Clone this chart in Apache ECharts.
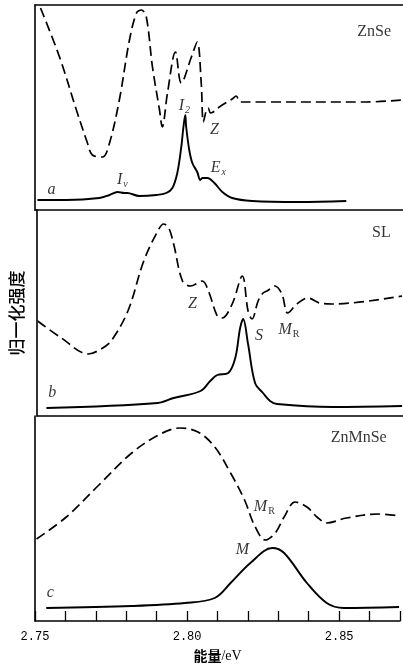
<!DOCTYPE html>
<html>
<head>
<meta charset="utf-8">
<script src="https://cdn.jsdelivr.net/npm/echarts@6/dist/echarts.min.js"></script>
<style>
  html, body { margin: 0; padding: 0; background: #fff; }
  #chart { width: 403px; height: 671px; }
</style>
</head>
<body>
<div id="chart"></div>
<script>
// energy (eV), normalized intensity (arbitrary units per panel)
const znseRefl = [[2.7518,202],[2.7580,153],[2.7635,100],[2.7671,67],[2.7687,55],[2.7720,53],[2.7743,67],[2.7775,110],[2.7808,170],[2.7831,197],[2.7847,200],[2.7863,193],[2.7883,143],[2.7906,100],[2.7915,83],[2.7932,117],[2.7958,158],[2.7977,127],[2.8010,153],[2.8029,168],[2.8042,127],[2.8049,88],[2.8059,100],[2.8065,102],[2.8072,97],[2.8081,98],[2.8101,103],[2.8143,111],[2.8156,114],[2.8169,108],[2.8254,108],[2.8580,108],[2.8697,110]];
const znsePL = [[2.7508,10],[2.7603,10],[2.7710,12],[2.7743,15],[2.7769,18],[2.7792,17],[2.7801,17],[2.7840,14],[2.7896,15],[2.7928,17],[2.7948,22],[2.7964,37],[2.7977,63],[2.7984,83],[2.7990,95],[2.7993,83],[2.8003,60],[2.8013,47],[2.8029,38],[2.8039,30],[2.8046,32],[2.8062,32],[2.8085,27],[2.8111,18],[2.8143,12],[2.8208,9],[2.8362,8],[2.8515,9]];

const slRefl = [[2.7502,95],[2.7580,78],[2.7668,62],[2.7710,67],[2.7743,75],[2.7798,105],[2.7850,155],[2.7896,185],[2.7915,192],[2.7932,188],[2.7948,172],[2.7977,135],[2.8003,130],[2.8042,135],[2.8062,125],[2.8091,100],[2.8107,98],[2.8140,112],[2.8173,140],[2.8192,105],[2.8205,97],[2.8225,115],[2.8241,123],[2.8254,125],[2.8280,130],[2.8303,122],[2.8322,103],[2.8352,112],[2.8388,118],[2.8427,113],[2.8469,112],[2.8697,120]];
const slPL = [[2.7531,8],[2.7896,13],[2.7948,18],[2.8036,25],[2.8068,35],[2.8091,41],[2.8127,43],[2.8150,58],[2.8166,88],[2.8176,97],[2.8192,72],[2.8215,33],[2.8241,23],[2.8264,15],[2.8287,12],[2.8469,9],[2.8697,10]];

const znmnseRefl = [[2.7505,82],[2.7603,104],[2.7710,136],[2.7818,168],[2.7906,186],[2.7977,193],[2.8036,189],[2.8091,174],[2.8143,148],[2.8189,121],[2.8221,96],[2.8257,81],[2.8290,88],[2.8319,104],[2.8355,119],[2.8394,114],[2.8427,104],[2.8459,98],[2.8524,103],[2.8632,107],[2.8697,105]];
const znmnsePL = [[2.7537,13],[2.7818,15],[2.7993,18],[2.8091,23],[2.8143,38],[2.8208,58],[2.8280,73],[2.8319,68],[2.8394,38],[2.8459,18],[2.8515,13],[2.8697,14]];

// annotation texts: text, energy, intensity
const labelsA = [['ZnSe',2.8606,178],['{it|I}{sub|2}',2.7987,104],['{it|Z}',2.8085,80],['{it|E}{sub|x}',2.8098,42],['{it|I}{sub|v}',2.7785,30],['{it|a}',2.7554,20]];
const labelsB = [['SL',2.8629,183],['{it|Z}',2.8010,112],['{it|S}',2.8228,80],['{it|M}{rsub|R}',2.8326,86],['{it|b}',2.7550,23]];
const labelsC = [['ZnMnSe',2.8564,183],['{it|M}{rsub|R}',2.8254,114],['{it|M}',2.8182,71],['{it|c}',2.7550,28]];

const xMin = 2.75, xMax = 2.87;
const axisColor = '#000';

const chart = echarts.init(document.getElementById('chart'));

function xAx(grid, extra) {
  return Object.assign({
    type: 'value', gridIndex: grid, min: xMin, max: xMax, interval: 0.01,
    axisLine: { show: true, lineStyle: { color: axisColor, width: 1.6 } },
    axisTick: { show: false }, axisLabel: { show: false }, splitLine: { show: false }
  }, extra || {});
}
function yAx(grid, max, extra) {
  return Object.assign({
    type: 'value', gridIndex: grid, min: 0, max: max,
    axisLine: { show: true, lineStyle: { color: axisColor, width: 1.6 } },
    axisTick: { show: false }, axisLabel: { show: false }, splitLine: { show: false }
  }, extra || {});
}
function curve(data, idx, dashed) {
  return {
    type: 'line', xAxisIndex: idx, yAxisIndex: idx, data: data,
    smooth: 0.35, showSymbol: false, silent: true,
    lineStyle: { color: '#000', width: dashed ? 1.7 : 1.9, type: dashed ? [10, 5] : 'solid' }
  };
}
const rich = {
  it: { fontFamily: 'Liberation Serif', fontStyle: 'italic', fontSize: 16, color: '#000' },
  sub: { fontFamily: 'Liberation Serif', fontStyle: 'italic', fontSize: 10, color: '#000', padding: [9, 0, 0, 1] },
  rsub: { fontFamily: 'Liberation Serif', fontSize: 10, color: '#000', padding: [9, 0, 0, 1] }
};
function notes(list, idx) {
  return {
    type: 'scatter', xAxisIndex: idx, yAxisIndex: idx, silent: true,
    symbolSize: 1, itemStyle: { color: 'transparent' },
    data: list.map(d => ({ value: [d[1], d[2]], name: d[0] })),
    label: {
      show: true, position: 'inside', formatter: p => p.name,
      fontFamily: 'Liberation Serif', fontSize: 16, color: '#000', rich: rich
    }
  };
}

chart.setOption({
  animation: false,
  grid: [
    { left: 35, right: 0, top: 5, height: 205 },
    { left: 35, right: 0, top: 210, height: 206 },
    { left: 35, right: 0, top: 416, height: 205 }
  ],
  xAxis: [
    xAx(0),
    xAx(1),
    xAx(2, {
      axisTick: { show: true, inside: true, length: 10, lineStyle: { color: axisColor, width: 1.3 } },
      axisLabel: {
        show: true, margin: 10, color: '#000', fontFamily: 'Liberation Mono', fontSize: 12,
        formatter: v => { const r = Math.round(v * 100); return r % 5 === 0 ? (r / 100).toFixed(2) : ''; }
      },
      name: '{cn|能量}{en|/eV}', nameLocation: 'middle', nameGap: 28,
      nameTextStyle: {
        rich: {
          cn: { fontFamily: 'Noto Sans CJK SC', fontSize: 14, fontWeight: 'bold', color: '#000' },
          en: { fontFamily: 'Liberation Serif', fontSize: 14, color: '#000' }
        }
      }
    }),
    xAx(0, { position: 'top' })
  ],
  yAxis: [
    yAx(0, 205),
    yAx(1, 206, {
      name: '归一化强度', nameLocation: 'middle', nameGap: 12, nameRotate: 90,
      nameTextStyle: { fontFamily: 'Noto Sans CJK SC', fontSize: 17, fontWeight: 500, color: '#000' }
    }),
    yAx(2, 205)
  ],
  series: [
    curve(znseRefl, 0, true), curve(znsePL, 0, false),
    curve(slRefl, 1, true), curve(slPL, 1, false),
    curve(znmnseRefl, 2, true), curve(znmnsePL, 2, false),
    notes(labelsA, 0), notes(labelsB, 1), notes(labelsC, 2)
  ]
});
</script>
</body>
</html>
